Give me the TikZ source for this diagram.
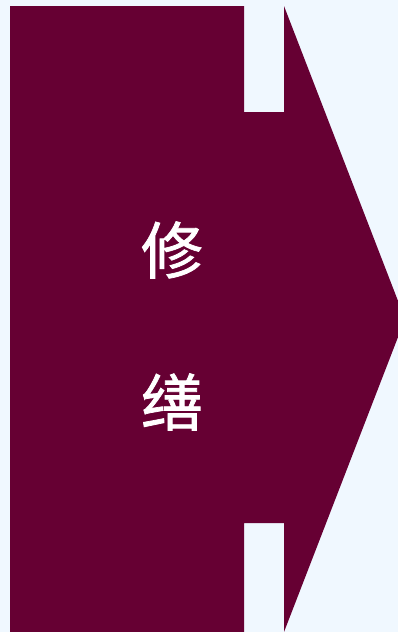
\documentclass[tikz,border=0pt]{standalone}
\usepackage{fontspec}
\newfontfamily\cjk[FakeBold=1.2]{Noto Sans CJK SC}
\definecolor{Maroon}{RGB}{102,0,51}
\definecolor{AliceBlue}{RGB}{240,248,255}
\tikzset{
    label char/.style={text=white, inner sep=0pt, font=\cjk\fontsize{62}{62}\selectfont}
}

\begin{document}
\begin{tikzpicture}[x=1pt, y=-1pt]
\useasboundingbox (0,0) rectangle (398,632);
\fill[AliceBlue] (0,0) rectangle (398,632);
\clip (0,0) rectangle (398,632);
% Arrow shape
\fill[Maroon] (10,6) -- (244,6) -- (244,112) -- (284,112) -- (284,6)
    -- (405,319) -- (284,632) -- (284,523) -- (244,523) -- (244,632)
    -- (10,632) -- cycle;
% Labels
\node[label char] (xiu) at (172,250) {修};
\node[label char] (shan) at (172,402) {缮};
\end{tikzpicture}
\end{document}
